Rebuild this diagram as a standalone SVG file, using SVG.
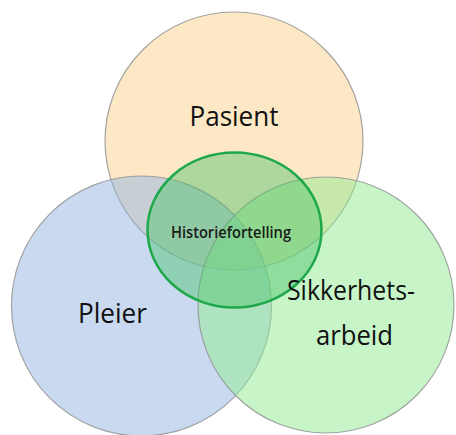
<svg xmlns="http://www.w3.org/2000/svg" width="456" height="435" viewBox="0 0 456 435">
  <style>
    .set { stroke: #8f8f8f; stroke-width: 1.2; stroke-opacity: 0.8; fill-opacity: 0.5; }
    .core { fill: #4cc36a; fill-opacity: 0.45; stroke: #1fa84a; stroke-width: 2.5; }
    .big { font-family: "Open Sans", "Liberation Sans", Arial, sans-serif; font-size: 27.5px; fill: #111111; text-anchor: middle; }
    .small { font-family: "Open Sans", "Liberation Sans", Arial, sans-serif; font-size: 15.5px; font-weight: 600; fill: #1a1a1a; text-anchor: middle; }
  </style>
  <rect width="456" height="435" fill="#ffffff"/>

  <g id="pasient">
    <circle class="set" cx="234" cy="141" r="129" fill="#fbd18d"/>
    <text class="big" x="234" y="126" textLength="89" lengthAdjust="spacingAndGlyphs">Pasient</text>
  </g>

  <g id="pleier">
    <circle class="set" cx="141.5" cy="306" r="130" fill="#93b5e1"/>
  </g>

  <g id="sikkerhetsarbeid">
    <circle class="set" cx="326" cy="305" r="128" fill="#91eb91"/>
  </g>

  <g id="historiefortelling">
    <ellipse class="core" cx="234.5" cy="230" rx="87" ry="77.5"/>
    <text class="small" x="231" y="238" textLength="120" lengthAdjust="spacingAndGlyphs">Historiefortelling</text>
  </g>

  <!-- outer labels drawn last so they sit above every fill -->
  <g id="labels">
    <text class="big" x="112.5" y="323" textLength="69" lengthAdjust="spacingAndGlyphs">Pleier</text>
    <text class="big" x="351" y="300" textLength="128" lengthAdjust="spacingAndGlyphs">Sikkerhets-</text>
    <text class="big" x="354.5" y="345" textLength="77" lengthAdjust="spacingAndGlyphs">arbeid</text>
  </g>
</svg>
